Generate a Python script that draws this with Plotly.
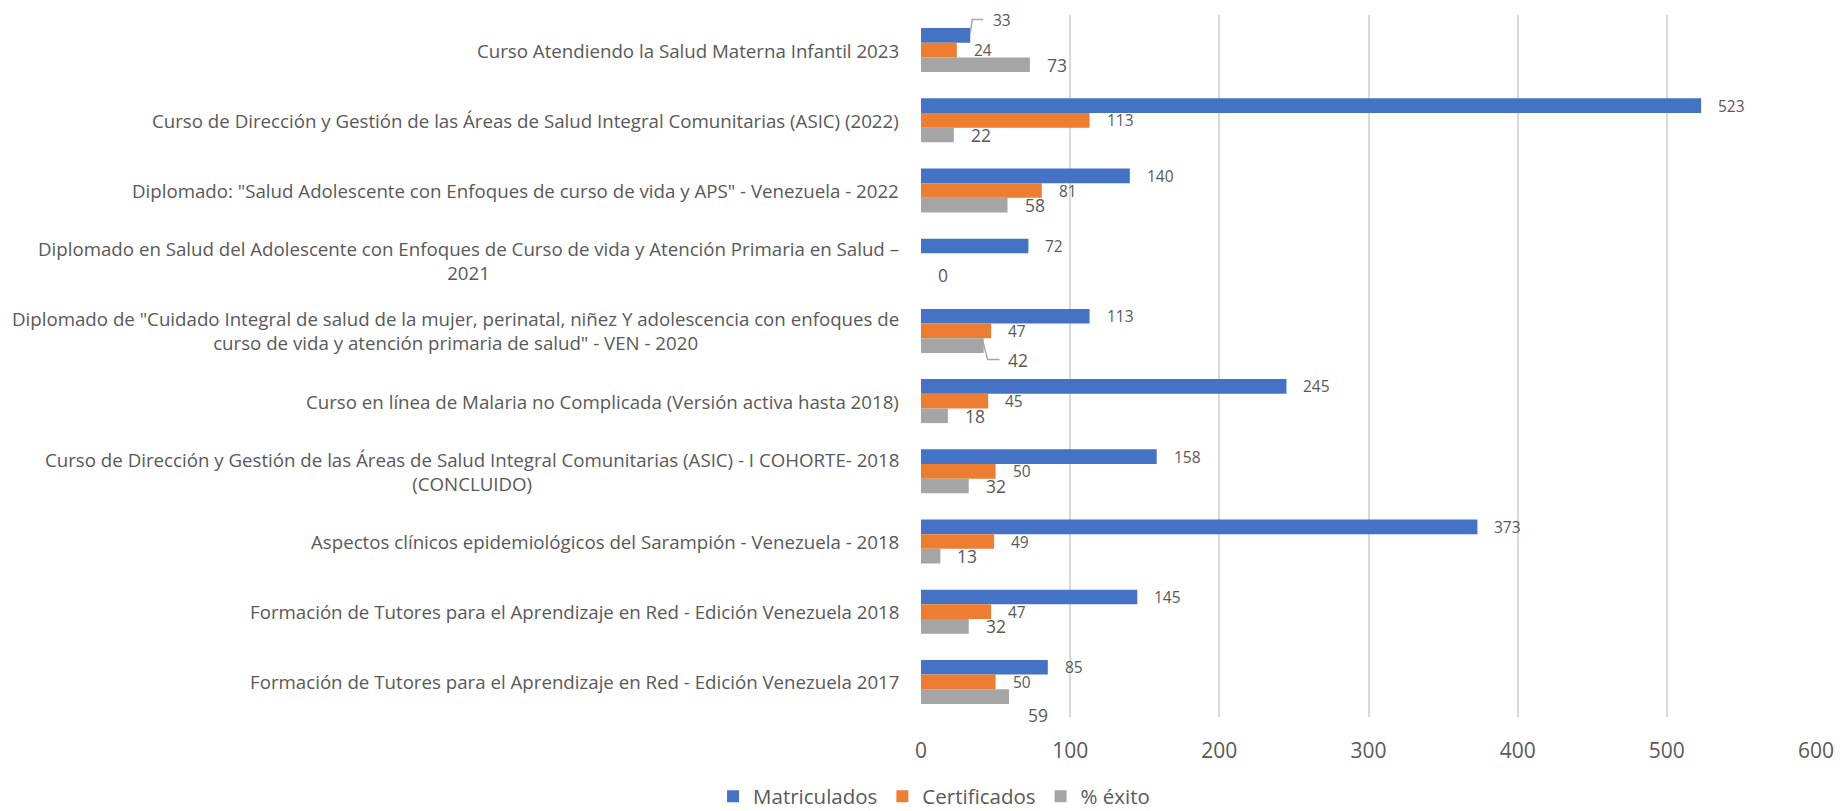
import plotly.graph_objects as go

# ---------------- data ----------------
categories = [
    "Curso Atendiendo la Salud Materna Infantil 2023",
    "Curso de Dirección y Gestión de las Áreas de Salud Integral Comunitarias (ASIC) (2022)",
    'Diplomado: "Salud Adolescente con Enfoques de curso de vida y APS" - Venezuela - 2022',
    "Diplomado en Salud del Adolescente con Enfoques de Curso de vida y Atención Primaria en Salud –<br>2021",
    'Diplomado de "Cuidado Integral de salud de la mujer, perinatal, niñez Y adolescencia con enfoques de<br>curso de vida y atención primaria de salud" - VEN - 2020',
    "Curso en línea de Malaria no Complicada (Versión activa hasta 2018)",
    "Curso de Dirección y Gestión de las Áreas de Salud Integral Comunitarias (ASIC) - I COHORTE- 2018<br>(CONCLUIDO)",
    "Aspectos clínicos epidemiológicos del Sarampión - Venezuela - 2018",
    "Formación de Tutores para el Aprendizaje en Red - Edición Venezuela 2018",
    "Formación de Tutores para el Aprendizaje en Red - Edición Venezuela 2017",
]
matriculados = [33, 523, 140, 72, 113, 245, 158, 373, 145, 85]
certificados = [24, 113, 81, None, 47, 45, 50, 49, 47, 50]
exito = [73, 22, 58, 0, 42, 18, 32, 13, 32, 59]
series_names = ["Matriculados", "Certificados", "% éxito"]
x_ticks = [0, 100, 200, 300, 400, 500, 600]

# ---------------- style ----------------
colors = ["#4472C4", "#ED7D31", "#A5A5A5"]
text_color = "#595959"
FONT = "Open Sans"
W, H = 1846, 811
M_L, M_R, M_T, M_B = 921, 23, 15, 94
BARGAP = 0.373
n_cat = len(categories)
band_px = (H - M_T - M_B) / n_cat
bar_px = band_px * (1 - BARGAP) / 3
series_yshift = [bar_px, 0, -bar_px]
label_sizes = [15.5, 15.5, 17.5]
label_gap = 15
# special label placements (dx, dy screen-down) relative to bar end / bar centre
special = {(0, 0): (21, -15.5), (2, 4): (22, 14.5), (2, 9): (17, 18.5)}
# leader lines: pixel path relative to bar end / bar centre (screen coords, y down)
leaders = {(0, 0): [(0, -2), (2, -16), (13, -16)],
           (2, 4): [(-1, -5), (4, 14), (16, 14)]}

all_series = [matriculados, certificados, exito]

fig = go.Figure()
for name, vals, col in zip(series_names, all_series, colors):
    fig.add_trace(go.Bar(
        y=categories, x=vals, name=name, orientation="h",
        marker=dict(color=col, line=dict(width=0)),
        hoverinfo="x+name",
    ))

annotations = []
shapes = []
for s, vals in enumerate(all_series):
    for i, v in enumerate(vals):
        if v is None:
            continue
        dx, dy = special.get((s, i), (label_gap, 0))
        annotations.append(dict(
            x=v, y=categories[i], xref="x", yref="y",
            text=str(v), showarrow=False, xanchor="left", yanchor="middle",
            xshift=dx, yshift=series_yshift[s] - dy,
            font=dict(family=FONT, size=label_sizes[s], color=text_color),
        ))
        if (s, i) in leaders:
            pts = leaders[(s, i)]
            path = "M " + " L ".join(
                f"{px},{series_yshift[s] - py}" for px, py in pts)
            shapes.append(dict(
                type="path", xref="x", yref="y",
                xsizemode="pixel", ysizemode="pixel",
                xanchor=v, yanchor=categories[i],
                path=path, line=dict(color="#A6A6A6", width=1.5),
            ))

for c in categories:
    annotations.append(dict(
        x=0, y=c, xref="paper", yref="y", text=c, showarrow=False,
        xanchor="right", yanchor="middle", align="center", xshift=-20,
        font=dict(family=FONT, size=18.7, color=text_color),
    ))

fig.update_layout(
    width=W, height=H,
    margin=dict(l=M_L, r=M_R, t=M_T, b=M_B),
    paper_bgcolor="white", plot_bgcolor="white",
    barmode="group", bargap=BARGAP, bargroupgap=0,
    font=dict(family=FONT, color=text_color),
    xaxis=dict(
        range=[0, 600], tickvals=x_ticks, ticktext=[str(t) for t in x_ticks],
        showgrid=True, gridcolor="#D9D9D9", gridwidth=1.5,
        zeroline=False, showline=False, ticks="",
        tickfont=dict(family=FONT, size=21, color=text_color),
        ticklabelstandoff=19,
    ),
    yaxis=dict(
        categoryorder="array", categoryarray=categories,
        range=[n_cat - 0.5, -0.5], showticklabels=False,
        showgrid=False, zeroline=False, showline=False, ticks="",
    ),
    legend=dict(
        orientation="h", xref="container", yref="container",
        x=0.506, y=0.018, xanchor="center", yanchor="middle",
        font=dict(family=FONT, size=20.5, color=text_color),
        itemwidth=30,
    ),
    annotations=annotations,
    shapes=shapes,
    showlegend=True,
)

fig.write_html(
    "out.html",
    config={"displayModeBar": False},
    post_script="document.body.style.margin='0';document.body.style.overflow='hidden';",
)
